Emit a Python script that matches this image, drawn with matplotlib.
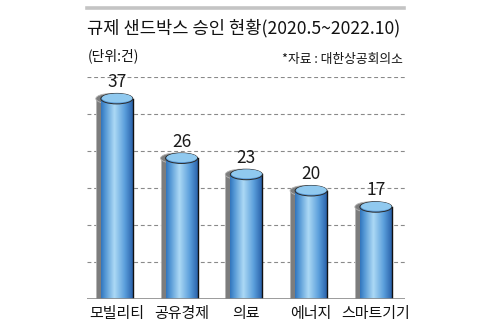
import matplotlib
matplotlib.use('Agg')
import matplotlib.pyplot as plt
import numpy as np
from matplotlib.patches import Rectangle, Ellipse
from matplotlib.lines import Line2D
from matplotlib.colors import LinearSegmentedColormap

plt.rcParams['font.family'] = ['Noto Sans CJK KR', 'DejaVu Sans']

# 규제 샌드박스 분야별 승인 건수
categories = ['모빌리티', '공유경제', '의료', '에너지', '스마트기기']
counts = [37, 26, 23, 20, 17]

title = '규제 샌드박스 승인 현황(2020.5~2022.10)'
unit_note = '(단위:건)'
source_note = '*자료 : 대한상공회의소'

W, H = 501, 334
fig = plt.figure(figsize=(W / 100, H / 100), dpi=100)
ax = fig.add_axes([87 / W, 1 - 299 / H, 318 / W, 222 / H])

ymax = 41
ax.set_xlim(-0.46, len(categories) - 0.55)
ax.set_ylim(0, ymax)

# px -> data unit conversion
px_x = (ax.get_xlim()[1] - ax.get_xlim()[0]) / 318
px_y = ymax / 222

# dashed grid
for g in np.linspace(0, ymax, 7)[1:]:
    ax.axhline(g, color='#8a8a8a', lw=0.8, ls=(0, (3.5, 2.5)), zorder=0)
ax.axhline(0, color='#8a8a8a', lw=1.2, zorder=5)

body_cmap = LinearSegmentedColormap.from_list(
    'cyl', [(0.0, '#3274bb'), (0.12, '#4f94d3'), (0.42, '#acd9f5'),
            (0.75, '#5a9edb'), (1.0, '#2a62ab')])
grad = np.linspace(0, 1, 256).reshape(1, -1)

bw = 32 * px_x
eh = 10.5 * px_y
shadow_dx = 5 * px_x

for i, v in enumerate(counts):
    x0 = i - bw / 2
    # gray shadow cylinder behind
    sh = Rectangle((x0 - shadow_dx, 0), bw, v, facecolor='#7d7d7d',
                   edgecolor='#b5b5b5', lw=0.6, zorder=2)
    ax.add_patch(sh)
    ax.add_patch(Ellipse((i - shadow_dx, v), bw, eh, facecolor='#7d7d7d',
                         edgecolor='#b5b5b5', lw=0.6, zorder=2))
    # blue body with horizontal gradient
    body = Rectangle((x0, 0), bw, v, facecolor='none', edgecolor='none', zorder=3)
    ax.add_patch(body)
    im = ax.imshow(grad, cmap=body_cmap, aspect='auto',
                   extent=(x0, x0 + bw, 0, v), zorder=3, interpolation='bilinear')
    im.set_clip_path(body)
    ax.plot([x0 + bw, x0 + bw], [0, v], color='#111111', lw=1.0, zorder=4)
    # top cap
    ax.add_patch(Ellipse((i, v), bw, eh, facecolor='#5b9bd8',
                         edgecolor='#2a2a2a', lw=0.7, zorder=4))
    ax.add_patch(Ellipse((i + 0.01 * bw, v + 0.06 * eh), bw * 0.95, eh * 0.86,
                         facecolor='#90c9ef', edgecolor='none', zorder=4))
    ax.annotate(str(v), (i, v), xytext=(0, 12), textcoords='offset points',
                ha='center', va='center', fontsize=12.5, color='#1a1a1a',
                zorder=6)

ax.set_xticks(range(len(categories)))
ax.set_xticklabels(categories, fontsize=10.8, color='#111111', fontweight='medium')
ax.tick_params(axis='x', length=0, pad=6)
ax.set_yticks([])
for s in ax.spines.values():
    s.set_visible(False)

fig.add_artist(Line2D([87 / W, 404 / W], [1 - 7.5 / H] * 2,
                      color='#c4c4c4', lw=2.6))
fig.text(87 / W, 1 - 28 / H, title, fontsize=12.7, fontweight='medium',
         ha='left', va='center', color='#111111')
fig.text(88 / W, 1 - 56 / H, unit_note, fontsize=10, ha='left', va='center',
         color='#111111')
fig.text(403 / W, 1 - 59 / H, source_note, fontsize=9.2, ha='right', va='center',
         color='#111111')

fig.savefig('out.png', dpi=100)
